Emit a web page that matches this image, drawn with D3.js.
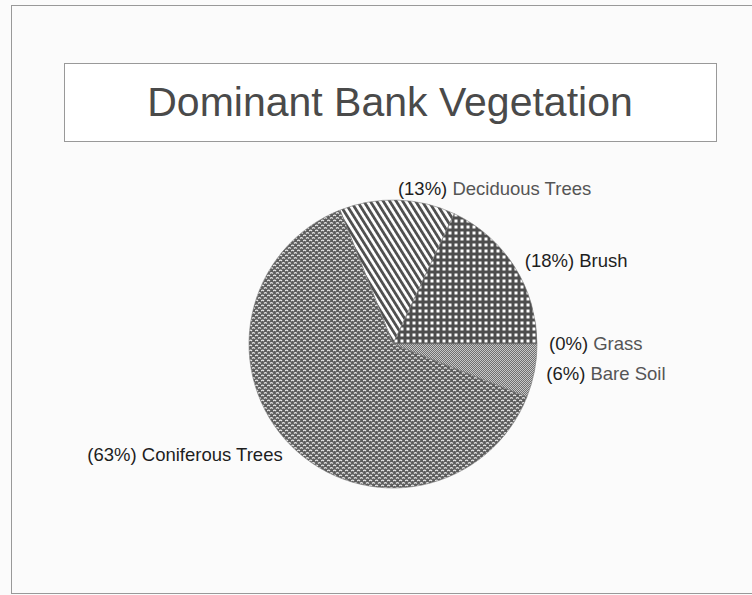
<!DOCTYPE html>
<meta charset="utf-8">
<style>
body { margin: 0; background: #fbfbfb; }
text { font-family: "Liberation Sans", Arial, sans-serif; }
.slice { stroke: #777; stroke-width: 0.6px; }
</style>
<body>
<script src="https://d3js.org/d3.v7.min.js"></script>
<script>
// chart data
var categories = ["Deciduous Trees", "Brush", "Grass", "Bare Soil", "Coniferous Trees"];
var values = [13, 18, 0, 6, 63];
var patterns = ["stripes", "checks", "grass", "fine", "waves"];
var titleText = "Dominant Bank Vegetation";

var width = 752, height = 595;
var cx = 393, cy = 344, radius = 144;
var startDeg = -21.6;

var svg = d3.select("body").append("svg")
    .attr("width", width)
    .attr("height", height);

var defs = svg.append("defs");

// diagonal stripes
var p = defs.append("pattern").attr("id", "stripes")
    .attr("patternUnits", "userSpaceOnUse")
    .attr("width", 5.5).attr("height", 5.5)
    .attr("patternTransform", "rotate(-32)");
p.append("rect").attr("width", 5.5).attr("height", 5.5).attr("fill", "#fff");
p.append("rect").attr("width", 2.8).attr("height", 5.5).attr("fill", "#505050");

// big checks (brush)
p = defs.append("pattern").attr("id", "checks")
    .attr("patternUnits", "userSpaceOnUse")
    .attr("width", 6).attr("height", 6);
p.append("rect").attr("width", 6).attr("height", 6).attr("fill", "#4e4e4e");
p.append("rect").attr("x", 1.5).attr("y", 1.5).attr("width", 3).attr("height", 3).attr("fill", "#fff");

// grass
p = defs.append("pattern").attr("id", "grass")
    .attr("patternUnits", "userSpaceOnUse")
    .attr("width", 4).attr("height", 4);
p.append("rect").attr("width", 4).attr("height", 4).attr("fill", "#aaa");

// fine checks (bare soil)
p = defs.append("pattern").attr("id", "fine")
    .attr("patternUnits", "userSpaceOnUse")
    .attr("width", 2).attr("height", 2);
p.append("rect").attr("width", 2).attr("height", 2).attr("fill", "#c8c8c8");
p.append("rect").attr("width", 1).attr("height", 1).attr("fill", "#707070");
p.append("rect").attr("x", 1).attr("y", 1).attr("width", 1).attr("height", 1).attr("fill", "#707070");

// wavy bricks (coniferous)
p = defs.append("pattern").attr("id", "waves")
    .attr("patternUnits", "userSpaceOnUse")
    .attr("width", 6).attr("height", 5);
p.append("rect").attr("width", 6).attr("height", 5).attr("fill", "#5c5c5c");
p.append("path").attr("d", "M0,2 Q1.5,0.3 3,2 M3,4.5 Q4.5,2.8 6,4.5 M-3,4.5 Q-1.5,2.8 0,4.5")
    .attr("fill", "none").attr("stroke", "#e8e8e8").attr("stroke-width", 1.2);

// outer frame
svg.append("rect")
    .attr("x", 11.5).attr("y", 5.5)
    .attr("width", 760).attr("height", 588)
    .attr("fill", "none").attr("stroke", "#999");

// title box
svg.append("rect")
    .attr("x", 64.5).attr("y", 63.5)
    .attr("width", 652).attr("height", 78)
    .attr("fill", "#fff").attr("stroke", "#999");

svg.append("text")
    .attr("x", 390).attr("y", 116)
    .attr("text-anchor", "middle")
    .attr("font-size", 41)
    .attr("fill", "#4a4a4a")
    .text(titleText);

var data = categories.map(function(c, i) {
  return {name: c, value: values[i], pattern: patterns[i]};
});

var pie = d3.pie()
    .sort(null)
    .value(function(d) { return d.value; })
    .startAngle(startDeg * Math.PI / 180)
    .endAngle(startDeg * Math.PI / 180 + 2 * Math.PI);

var arc = d3.arc().innerRadius(0).outerRadius(radius);
var labelArc = d3.arc().innerRadius(radius + 12).outerRadius(radius + 12);

var g = svg.append("g")
    .attr("transform", "translate(" + cx + "," + cy + ")");

var arcs = pie(data);

g.selectAll("path")
    .data(arcs)
  .enter().append("path")
    .attr("class", "slice")
    .attr("d", arc)
    .attr("fill", function(d) { return "url(#" + d.data.pattern + ")"; });

var total = d3.sum(values);

var lab = g.selectAll(".lab")
    .data(arcs)
  .enter().append("text")
    .attr("class", "lab")
    .attr("transform", function(d) {
      var c = labelArc.centroid(d);
      return "translate(" + c + ")";
    })
    .attr("dy", "0.35em")
    .attr("font-size", 18.5)
    .attr("text-anchor", function(d) {
      var mid = (d.startAngle + d.endAngle) / 2;
      return Math.sin(mid) >= 0 ? "start" : "end";
    });

lab.append("tspan")
    .attr("fill", "#1e1e1e")
    .text(function(d) { return "(" + Math.round(d.data.value / total * 100) + "%) "; });
lab.append("tspan")
    .attr("fill", function(d) { return d.data.name == "Brush" || d.data.name == "Coniferous Trees" ? "#1e1e1e" : "#555"; })
    .text(function(d) { return d.data.name; });
</script>
</body>
